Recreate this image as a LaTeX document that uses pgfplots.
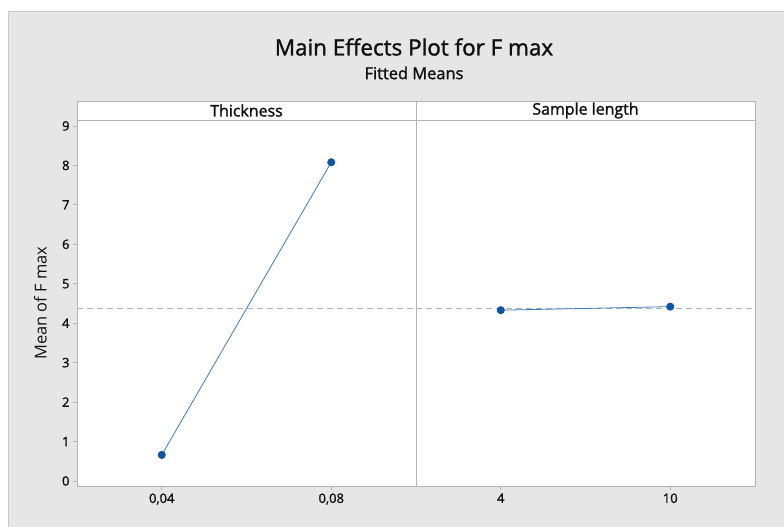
\documentclass[border=0pt]{standalone}
\usepackage{pgfplots}
\pgfplotsset{compat=1.18}
\usepackage{fontspec}
\setmainfont{Open Sans}
\newfontfamily\semib{Open Sans}[FakeBold=1.5]
\definecolor{bg}{HTML}{E6E6E6}
\definecolor{framec}{HTML}{C8C8C8}
\definecolor{axgray}{HTML}{B4B4B4}
\definecolor{ptblue}{HTML}{0B55A3}
\definecolor{lnblue}{HTML}{3A7CC0}
\definecolor{meangray}{HTML}{B0B0B0}
\definecolor{txt}{HTML}{101010}
\begin{document}
\begin{tikzpicture}[x=1bp,y=1bp]
\fill[white] (0,0) rectangle (784,527);
\fill[bg] (8,0) rectangle (784,516);
\draw[framec, line width=0.8bp] (8.5,0) -- (8.5,515.6) -- (784,515.6);
\pgfplotsset{
  panel/.style={
    scale only axis, width=339bp, height=366bp,
    anchor=south west,
    xmin=0.5, xmax=2.5, ymin=-0.127, ymax=9.152,
    axis line style={axgray, line width=0.8bp},
    tick style={axgray, line width=0.8bp},
    tick align=outside, major tick length=4bp,
    xtick={1,2},
    tick label style={font=\semib\fontsize{13}{15}\selectfont, text=txt},
    /pgf/number format/assume math mode=true,
    axis background/.style={fill=white},
    clip=false,
  },
}
\begin{axis}[panel, at={(77bp,41bp)},
  ytick={0,1,2,3,4,5,6,7,8,9},
  xticklabels={0{,}04, 0{,}08},
  ylabel={Mean of F max},
  ylabel style={font=\fontsize{16.5}{18}\selectfont, text=txt, at={(axis description cs:-0.108,0.5)}, anchor=center},
]
\addplot[meangray, line width=0.8bp, dash pattern=on 6bp off 4bp] coordinates {(0.5,4.37) (2.5,4.37)};
\addplot[lnblue, line width=0.8bp, mark=*, mark size=3.6bp, mark options={fill=ptblue, draw=ptblue}] coordinates {(1,0.66) (2,8.08)};
\end{axis}
\begin{axis}[panel, at={(416bp,41bp)},
  ytick=\empty,
  xticklabels={4, 10},
]
\addplot[meangray, line width=0.8bp, dash pattern=on 6bp off 4bp] coordinates {(0.5,4.37) (2.5,4.37)};
\addplot[lnblue, line width=0.8bp, mark=*, mark size=3.6bp, mark options={fill=ptblue, draw=ptblue}] coordinates {(1,4.33) (2,4.42)};
\end{axis}
\filldraw[fill=white, draw=axgray, line width=0.8bp] (77,407) rectangle (755,426);
\draw[axgray, line width=0.8bp] (416,41) -- (416,426);
\node[text=txt, font=\semib\fontsize{16}{18}\selectfont] at (246.5,416.5) {Thickness};
\node[text=txt, font=\semib\fontsize{16}{18}\selectfont] at (585.5,416.5) {Sample length};
\node[text=txt, font=\semib\fontsize{22.5}{25}\selectfont] at (414,480) {Main Effects Plot for F max};
\node[text=txt, font=\semib\fontsize{16.5}{18}\selectfont] at (414,454) {Fitted Means};
\pgfresetboundingbox
\useasboundingbox (0,0) rectangle (784,527);
\end{tikzpicture}
\end{document}
